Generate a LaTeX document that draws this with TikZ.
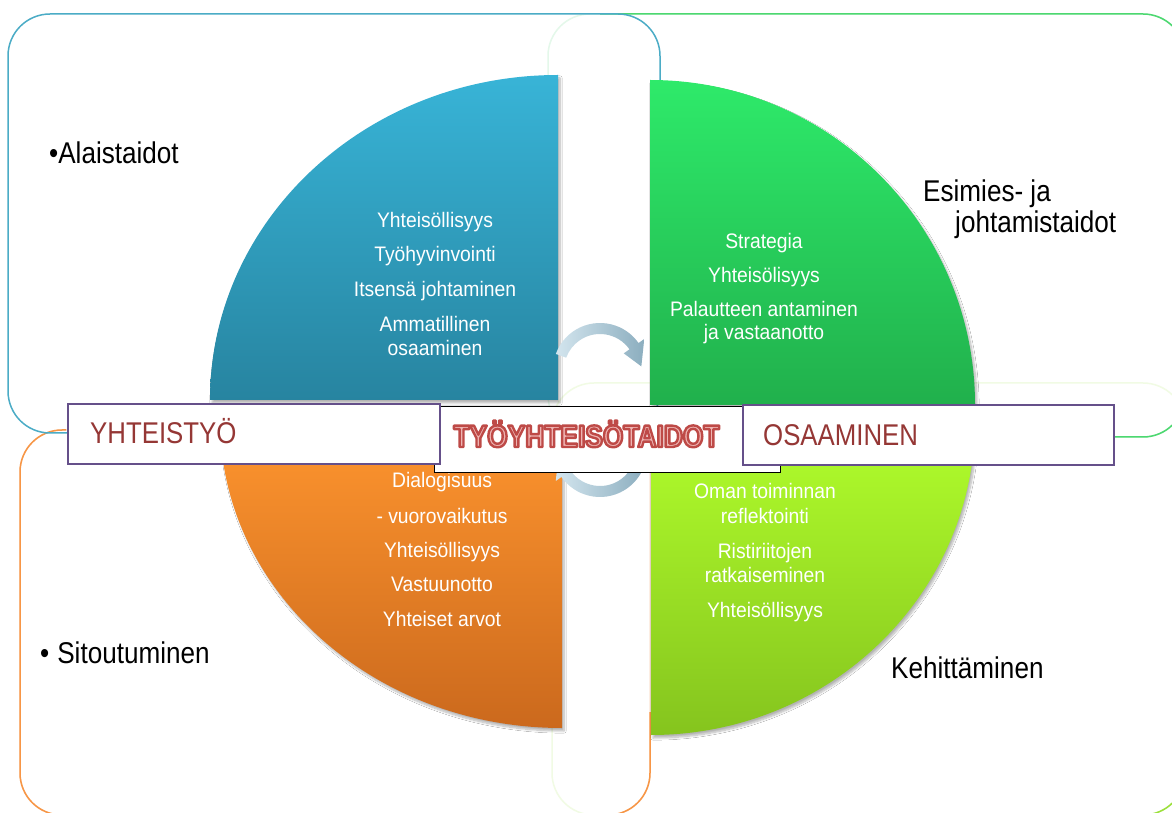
\documentclass[tikz,border=0pt]{standalone}
\usepackage{fontspec}
\setmainfont{Liberation Sans}
\newfontfamily\labfont[FakeStretch=0.87]{Liberation Sans}
\newfontfamily\sidefont[FakeStretch=0.86]{Liberation Sans}
\newfontfamily\innfont[FakeStretch=0.92]{Liberation Sans}
\newfontfamily\ctrfont[FakeStretch=0.85]{Liberation Sans}
\usetikzlibrary{shadows.blur}
\definecolor{frblue}{HTML}{4BACC6}
\definecolor{frgreen}{HTML}{4CD870}
\definecolor{frgreenfaint}{HTML}{E4F8EA}
\definecolor{frorange}{HTML}{F79646}
\definecolor{frorangefaint}{HTML}{FCE6D4}
\definecolor{frlime}{HTML}{9BE03A}
\definecolor{frlimefaint}{HTML}{F1FBE4}
\definecolor{bluetop}{HTML}{38B4D7}
\definecolor{bluebot}{HTML}{2784A0}
\definecolor{greentop}{HTML}{2EEA6A}
\definecolor{greenbot}{HTML}{21B04C}
\definecolor{orangetop}{HTML}{FF962F}
\definecolor{orangebot}{HTML}{CB691D}
\definecolor{limetop}{HTML}{B2FF2C}
\definecolor{limebot}{HTML}{85C41E}
\definecolor{arrowlight}{HTML}{D3E5EE}
\definecolor{arrowdark}{HTML}{8CAEBF}
\definecolor{boxpurple}{HTML}{65508A}
\definecolor{labred}{HTML}{953735}
\definecolor{ctrfill}{HTML}{EEB4B2}
% outlined text via PDF text render mode 2 (fill + stroke)
\newcommand\outlinedword{\textcolor{ctrfill}{\special{pdf:literal direct 0.745 0.290 0.278 RG 2 Tr 2.4 w 1 j}TYÖYHTEISÖTAIDOT\special{pdf:literal direct 0 Tr}}}
\begin{document}
\begin{tikzpicture}[x=1pt,y=1pt,
  frame/.style={line width=1.5pt, rounded corners=42pt},
  quarter/.style={blur shadow={shadow xshift=2pt, shadow yshift=-3pt, shadow blur steps=8, shadow opacity=30}},
  inner/.style={text=white, font=\innfont\fontsize{21}{24}\selectfont, anchor=base, inner sep=0pt},
  outer/.style={text=black, font=\labfont\fontsize{30}{34}\selectfont, anchor=base west, inner sep=0pt},
  sidebox/.style={draw=boxpurple, line width=2pt, fill=white, minimum height=60pt, inner sep=0pt},
  sidelabel/.style={text=labred, font=\sidefont\fontsize{30}{34}\selectfont, anchor=base west, inner sep=0pt},
  ctr/.style={font=\ctrfont\bfseries\fontsize{31}{34}\selectfont, anchor=base, inner sep=0pt}]
\useasboundingbox (0,0) rectangle (1172,812);
\fill[white] (0,0) rectangle (1172,812);
% frames
\draw[frame, draw=frlimefaint] (552,-3) rectangle (1185,429);
\draw[frame, draw=frlime] (1185,380) -- (1185,-3) -- (1000,-3);
\draw[frame, draw=frorangefaint] (20,-3) rectangle (650,382);
\draw[frame, draw=frorange] (66,382) -- (20,382) -- (20,-3) -- (650,-3) -- (650,100);
\draw[frame, draw=frgreenfaint] (548,375) rectangle (1185,798);
\draw[frame, draw=frgreen] (600,798) -- (1185,798) -- (1185,375) -- (1100,375);
\draw[frame, draw=frblue] (8,379) rectangle (660,798);
% quarters
\path[quarter, top color=bluetop, bottom color=bluebot]
  (558,412) -- (558,737) arc[start angle=90, end angle=180, x radius=348, y radius=325] -- cycle;
\path[quarter, top color=greentop, bottom color=greenbot]
  (650,407) -- (650,732) arc[start angle=90, end angle=0, x radius=325, y radius=325] -- cycle;
\path[quarter, top color=orangetop, bottom color=orangebot]
  (562,392) -- (220,392) arc[start angle=180, end angle=270, x radius=342, y radius=308] -- cycle;
\path[quarter, top color=limetop, bottom color=limebot]
  (651,392) -- (975,392) arc[start angle=0, end angle=-90, x radius=324, y radius=315] -- cycle;
% circular arrows
\begin{scope}[shift={(600,442)}]
\path[left color=arrowlight, right color=arrowdark]
  (160:47) arc[start angle=160, end angle=35, radius=47] -- (35:54) -- (5:41.5) -- (35:29) -- (35:36)
  arc[start angle=35, end angle=160, radius=36] -- cycle;
\end{scope}
\begin{scope}[shift={(600,362)}, rotate=180]
\path[left color=arrowlight, right color=arrowdark]
  (160:47) arc[start angle=160, end angle=35, radius=47] -- (35:54) -- (5:41.5) -- (35:29) -- (35:36)
  arc[start angle=35, end angle=160, radius=36] -- cycle;
\end{scope}
% inner texts
\node[inner] (b1) at (435,584) {Yhteisöllisyys};
\node[inner] (b2) at (435,550) {Työhyvinvointi};
\node[inner] (b3) at (435,515) {Itsensä johtaminen};
\node[inner] (b4) at (435,480) {Ammatillinen};
\node[inner] (b5) at (435,456) {osaaminen};
\node[inner] (g1) at (764,563) {Strategia};
\node[inner] (g2) at (764,529) {Yhteisölisyys};
\node[inner] (g3) at (764,495) {Palautteen antaminen};
\node[inner] (g4) at (764,472) {ja vastaanotto};
\node[inner] (o1) at (442,324) {Dialogisuus};
\node[inner] (o2) at (442,289) {- vuorovaikutus};
\node[inner] (o3) at (442,255) {Yhteisöllisyys};
\node[inner] (o4) at (442,221) {Vastuunotto};
\node[inner] (o5) at (442,186) {Yhteiset arvot};
\node[inner] (l1) at (765,314) {Oman toiminnan};
\node[inner] (l2) at (765,289) {reflektointi};
\node[inner] (l3) at (765,254) {Ristiriitojen};
\node[inner] (l4) at (765,230) {ratkaiseminen};
\node[inner] (l5) at (765,195) {Yhteisöllisyys};
% center box
\node[draw=black, line width=0.9pt, fill=white, minimum width=346pt, minimum height=66pt, inner sep=0pt] (ctrbox) at (607,373) {};
\node[ctr] (ctrtext) at (586.5,365) {\outlinedword};
% side boxes
\node[sidebox, minimum width=372pt] (ybox) at (254,378) {};
\node[sidelabel] (ylab) at (90,368) {YHTEISTYÖ};
\node[sidebox, minimum width=371pt] (obox) at (928.5,377) {};
\node[sidelabel] (olab) at (763,366) {OSAAMINEN};
% outer labels
\node[outer] (ala) at (49,648) {•Alaistaidot};
\node[outer] (esi1) at (923,610) {Esimies- ja};
\node[outer] (esi2) at (955,579) {johtamistaidot};
\node[outer] (sit) at (40,149) {•\hspace{8pt}Sitoutuminen};
\node[outer] (keh) at (891,134) {Kehittäminen};
\end{tikzpicture}
\end{document}
